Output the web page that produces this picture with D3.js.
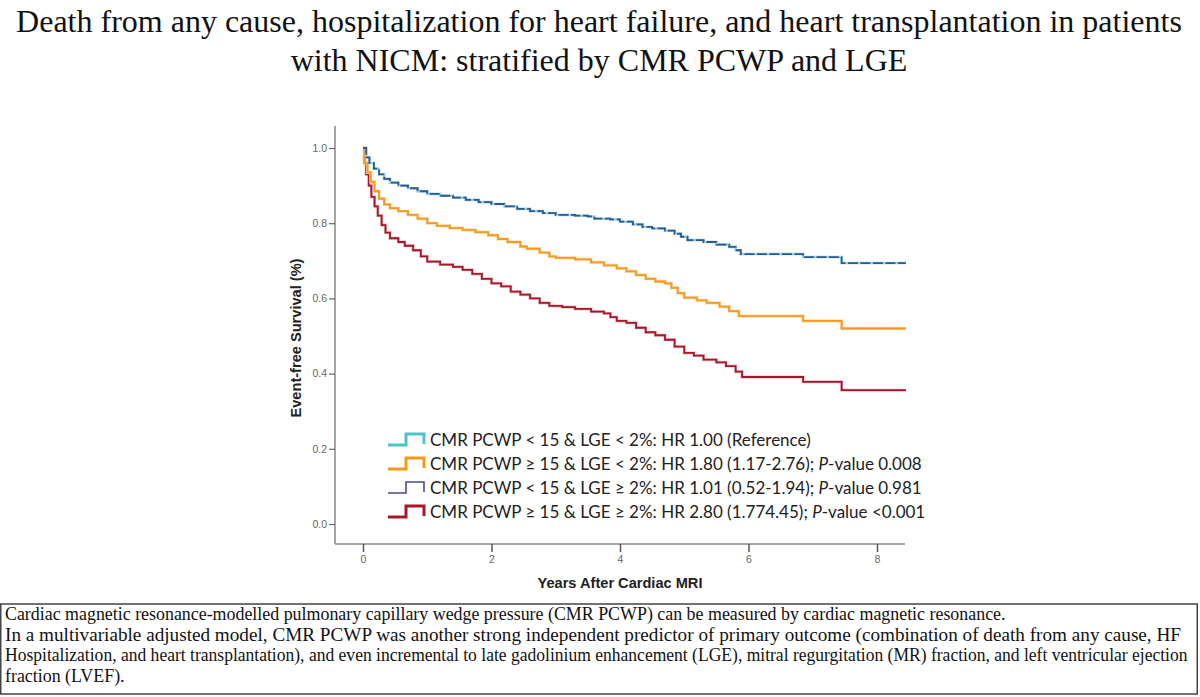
<!DOCTYPE html>
<html>
<head>
<meta charset="utf-8">
<script src="https://cdn.jsdelivr.net/npm/d3@7"></script>
<style>
  body { margin: 0; background: #fff; }
  svg { display: block; }
</style>
</head>
<body>
<script>
// Chart data
const titleLines = [
    "Death from any cause, hospitalization for heart failure, and heart transplantation in patients",
    "with NICM: stratified by CMR PCWP and LGE"
];
const yTicks = [0.0, 0.2, 0.4, 0.6, 0.8, 1.0];
const xTicks = [0, 2, 4, 6, 8];

// [years, survival]
const lowPcwpData = [
    [0, 1.0], [0.05, 0.975], [0.1, 0.96], [0.17, 0.945], [0.25, 0.93], [0.33, 0.918],
    [0.42, 0.908], [0.55, 0.9], [0.7, 0.893], [0.85, 0.885], [1.0, 0.878], [1.2, 0.873],
    [1.4, 0.868], [1.6, 0.862], [1.8, 0.856], [2.0, 0.851], [2.2, 0.845], [2.4, 0.838],
    [2.6, 0.832], [2.8, 0.827], [3.0, 0.822], [3.3, 0.82], [3.5, 0.818], [3.6, 0.812],
    [3.85, 0.81], [4.0, 0.804], [4.2, 0.797], [4.35, 0.79], [4.5, 0.786], [4.7, 0.78],
    [4.85, 0.772], [4.95, 0.764], [5.05, 0.755], [5.3, 0.75], [5.5, 0.743], [5.7, 0.737],
    [5.8, 0.728], [5.88, 0.718], [6.85, 0.71], [7.45, 0.694], [8.45, 0.694]
];
const highPcwpData = [
    [0, 1.0], [0.03, 0.96], [0.07, 0.935], [0.12, 0.91], [0.18, 0.885], [0.25, 0.865],
    [0.33, 0.85], [0.42, 0.84], [0.55, 0.832], [0.7, 0.822], [0.85, 0.812], [1.0, 0.8],
    [1.15, 0.793], [1.35, 0.787], [1.55, 0.782], [1.75, 0.776], [1.95, 0.768], [2.1, 0.758],
    [2.25, 0.75], [2.45, 0.738], [2.55, 0.732], [2.75, 0.722], [2.9, 0.712], [3.0, 0.708],
    [3.3, 0.704], [3.55, 0.696], [3.75, 0.688], [3.95, 0.68], [4.1, 0.672], [4.25, 0.662],
    [4.4, 0.652], [4.55, 0.645], [4.7, 0.64], [4.8, 0.628], [4.9, 0.614], [5.0, 0.602],
    [5.2, 0.595], [5.35, 0.588], [5.55, 0.578], [5.7, 0.566], [5.85, 0.553], [6.85, 0.54],
    [7.45, 0.52], [8.45, 0.52]
];
const highPcwpLgeData = [
    [0, 1.0], [0.02, 0.96], [0.05, 0.93], [0.09, 0.9], [0.13, 0.87], [0.18, 0.845],
    [0.23, 0.82], [0.29, 0.795], [0.35, 0.775], [0.42, 0.76], [0.55, 0.75], [0.65, 0.74],
    [0.78, 0.728], [0.9, 0.712], [1.0, 0.698], [1.2, 0.69], [1.4, 0.684], [1.55, 0.676],
    [1.7, 0.665], [1.85, 0.652], [2.0, 0.64], [2.15, 0.632], [2.3, 0.618], [2.45, 0.61],
    [2.6, 0.6], [2.75, 0.588], [2.9, 0.58], [3.1, 0.577], [3.3, 0.572], [3.55, 0.565],
    [3.75, 0.56], [3.85, 0.55], [3.95, 0.54], [4.1, 0.535], [4.25, 0.522], [4.4, 0.51],
    [4.55, 0.502], [4.7, 0.49], [4.85, 0.472], [5.0, 0.455], [5.15, 0.448], [5.3, 0.437],
    [5.5, 0.43], [5.65, 0.42], [5.8, 0.405], [5.9, 0.391], [6.85, 0.378], [7.45, 0.356],
    [8.45, 0.356]
];

const legendLabels = [
    ["CMR PCWP < 15 & LGE < 2%: HR 1.00  (Reference)", ""],
    ["CMR PCWP \u2265 15 & LGE < 2%: HR 1.80 (1.17-2.76); ", "0.008"],
    ["CMR PCWP < 15 & LGE \u2265 2%: HR 1.01 (0.52-1.94); ", "0.981"],
    ["CMR PCWP \u2265 15 & LGE \u2265 2%: HR 2.80 (1.774.45); ", "<0.001"]
];
const legendColors = ["#4fc4c8", "#f39a1e", "#4b4a8e", "#a3192b"];

const footnoteLines = [
    "Cardiac magnetic resonance-modelled pulmonary capillary wedge pressure (CMR PCWP) can be measured by cardiac magnetic resonance.",
    "In a multivariable adjusted model, CMR PCWP was another strong independent predictor of primary outcome (combination of death  from any cause, HF",
    "Hospitalization, and heart transplantation), and even incremental to late gadolinium enhancement (LGE), mitral regurgitation (MR) fraction, and left ventricular ejection",
    "fraction (LVEF)."
];

// Layout
const width = 1200;
const height = 697;
const plotLeft = 335, plotRight = 905, plotTop = 126, plotBottom = 544;

const svg = d3.select("body").append("svg")
    .attr("width", width)
    .attr("height", height);

// Title
svg.selectAll("text.title")
    .data(titleLines)
    .enter().append("text")
    .attr("class", "title")
    .attr("x", 599)
    .attr("y", (d, i) => 32 + i * 39)
    .attr("text-anchor", "middle")
    .attr("font-family", "'Liberation Serif', 'Times New Roman', serif")
    .attr("font-size", "32px")
    .attr("fill", "#111")
    .text(d => d);

// Scales
const xScale = d3.scaleLinear().domain([0, 8]).range([363, 877]);
const yScale = d3.scaleLinear().domain([0, 1]).range([524, 148]);

const axisColor = "#888";

// Axis lines
svg.append("line")
    .attr("x1", plotLeft).attr("x2", plotLeft)
    .attr("y1", plotTop).attr("y2", plotBottom)
    .attr("stroke", axisColor).attr("stroke-width", 1.5);
svg.append("line")
    .attr("x1", plotLeft).attr("x2", plotRight)
    .attr("y1", plotBottom).attr("y2", plotBottom)
    .attr("stroke", axisColor).attr("stroke-width", 1.5);

// Y axis ticks
const yAxis = d3.axisLeft(yScale)
    .tickValues(yTicks)
    .tickFormat(d3.format(".1f"))
    .tickSize(6)
    .tickPadding(2);
const gy = svg.append("g")
    .attr("transform", "translate(" + plotLeft + ",0)")
    .call(yAxis);
gy.select(".domain").remove();
gy.selectAll(".tick line").attr("stroke", "#666").attr("stroke-width", 1.2);
gy.selectAll(".tick text")
    .attr("fill", "#666")
    .attr("font-family", "'Liberation Sans', Arial, sans-serif")
    .attr("font-size", "10.5px");

// X axis ticks
const xAxis = d3.axisBottom(xScale)
    .tickValues(xTicks)
    .tickFormat(d3.format("d"))
    .tickSize(8)
    .tickPadding(4);
const gx = svg.append("g")
    .attr("transform", "translate(0," + plotBottom + ")")
    .call(xAxis);
gx.select(".domain").remove();
gx.selectAll(".tick line").attr("stroke", "#555").attr("stroke-width", 1.5);
gx.selectAll(".tick text")
    .attr("fill", "#666")
    .attr("font-family", "'Liberation Sans', Arial, sans-serif")
    .attr("font-size", "10.5px");

// Axis titles
svg.append("text")
    .attr("transform", "translate(301,338) rotate(-90)")
    .attr("text-anchor", "middle")
    .attr("font-family", "'Liberation Sans', Arial, sans-serif")
    .attr("font-weight", "bold")
    .attr("font-size", "14.6px")
    .attr("fill", "#222")
    .text("Event-free Survival (%)");

svg.append("text")
    .attr("x", 620)
    .attr("y", 588)
    .attr("text-anchor", "middle")
    .attr("font-family", "'Liberation Sans', Arial, sans-serif")
    .attr("font-weight", "bold")
    .attr("font-size", "14.6px")
    .attr("fill", "#222")
    .text("Years After Cardiac MRI");

// Survival curves
const line = d3.line()
    .x(d => xScale(d[0]))
    .y(d => yScale(d[1]))
    .curve(d3.curveStepAfter);

function drawCurve(data, color, widthPx, dash) {
    svg.append("path")
        .datum(data)
        .attr("d", line)
        .attr("fill", "none")
        .attr("stroke", color)
        .attr("stroke-width", widthPx)
        .attr("stroke-dasharray", dash || null);
}

// Halo colours keep the scanned look
drawCurve(highPcwpLgeData, "#f2b8bd", 3);
drawCurve(highPcwpLgeData, "#a3192b", 1.8);
drawCurve(highPcwpData, "#fbd49a", 3);
drawCurve(highPcwpData, "#f29a22", 1.8);
drawCurve(lowPcwpData, "#9ad2ea", 2.6);
drawCurve(lowPcwpData, "#2c5a8e", 1.8, "10,2.5");

// Legend
const legend = svg.append("g").attr("transform", "translate(388,0)");
const legendY = [440, 464, 488, 512];

legendLabels.forEach((label, i) => {
    const cy = legendY[i];
    const w = i === 2 ? 1.6 : 3;
    const icon = "M0," + (cy + 5) + " H18 V" + (cy - 6) + " H36 V" + (cy + 4);
    legend.append("path")
        .attr("d", icon)
        .attr("fill", "none")
        .attr("stroke", legendColors[i])
        .attr("stroke-width", w);

    const t = legend.append("text")
        .attr("x", 42)
        .attr("y", cy + 6)
        .attr("font-family", "Lato, 'Open Sans', sans-serif")
        .attr("font-size", "17px")
        .attr("fill", "#222");
    t.append("tspan").text(label[0]);
    if (label[1]) {
        t.append("tspan").attr("font-style", "italic").text("P");
        t.append("tspan").text("-value " + label[1]);
    }
});

// Footnote box
svg.append("rect")
    .attr("x", 0.75)
    .attr("y", 604)
    .attr("width", 1196.5)
    .attr("height", 90)
    .attr("fill", "none")
    .attr("stroke", "#444")
    .attr("stroke-width", 1.5);

// lines 2 and 3 are squeezed to the box width, like the source
const footWidths = [null, 1176, 1182, null];
svg.selectAll("text.foot")
    .data(footnoteLines)
    .enter().append("text")
    .attr("class", "foot")
    .attr("font-family", "'Liberation Serif', 'Times New Roman', serif")
    .attr("font-size", "17.9px")
    .attr("fill", "#111")
    .text(d => d)
    .attr("transform", function(d, i) {
        const y = 620 + i * 20.6;
        const natural = this.getComputedTextLength();
        const k = footWidths[i] ? footWidths[i] / natural : 1;
        return "translate(5," + y + ") scale(" + k + ",1)";
    });
</script>
</body>
</html>
